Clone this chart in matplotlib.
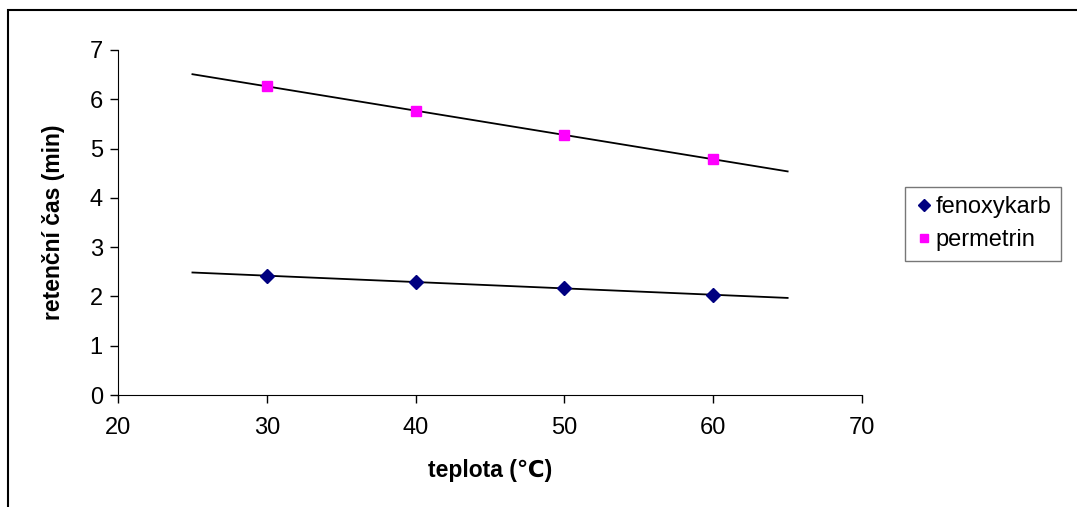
import matplotlib
matplotlib.use("Agg")
import matplotlib.pyplot as plt
import numpy as np
from matplotlib.patches import Rectangle

plt.rcParams['font.family'] = ['Liberation Sans', 'DejaVu Sans']

# data
teplota = [30, 40, 50, 60]
fenoxykarb = [2.42, 2.29, 2.17, 2.03]
permetrin = [6.27, 5.76, 5.27, 4.79]
trend_range = [25, 65]

fig = plt.figure(figsize=(10.77, 5.07), dpi=100)
ax = fig.add_axes([0.1096, 0.2209, 0.6908, 0.6805])

# trendlines
xs = np.array(trend_range)
for ys in (fenoxykarb, permetrin):
    k, q = np.polyfit(teplota, ys, 1)
    ax.plot(xs, k * xs + q, color='black', lw=1.3, zorder=2)

ax.plot(teplota, fenoxykarb, 'D', color='#000080', ms=7.5, ls='none',
        label='fenoxykarb', zorder=3)
ax.plot(teplota, permetrin, 's', color='#FF00FF', ms=7.5, ls='none',
        label='permetrin', zorder=3)

ax.set_xlim(20, 70)
ax.set_ylim(0, 7)
ax.set_xticks(range(20, 71, 10))
ax.set_yticks(range(0, 8))
ax.spines['top'].set_visible(False)
ax.spines['right'].set_visible(False)
ax.tick_params(labelsize=17, length=6, width=1)
ax.tick_params(axis='x', pad=10)
ax.tick_params(axis='y', pad=5)
ax.set_xlabel('teplota (℃)', fontsize=16.5, fontweight='bold', labelpad=14)
ax.set_ylabel('retenční čas (min)', fontsize=16.5, fontweight='bold', labelpad=18)

leg = fig.legend(loc='upper left', bbox_to_anchor=(905 / 1077, 1 - 187 / 507),
                 fontsize=17, frameon=True, fancybox=False, edgecolor='#555555',
                 handletextpad=0.1, handlelength=0.8, borderaxespad=0,
                 borderpad=0.4, labelspacing=0.45, markerscale=0.8)
leg.get_frame().set_linewidth(1)

# outer chart border
fig.patches.append(Rectangle((8 / 1077, -0.1), 1.2, 1.1 - 10 / 507,
                             transform=fig.transFigure, fill=False,
                             edgecolor='black', lw=1.5))

fig.savefig('out.png', dpi=100)
